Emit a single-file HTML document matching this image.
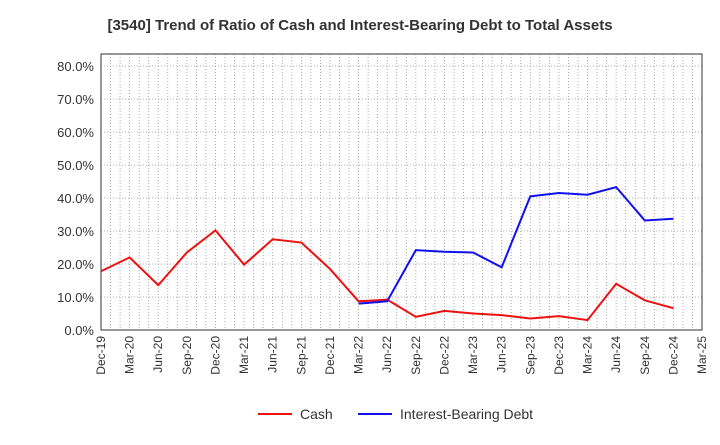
<!DOCTYPE html>
<html><head><meta charset="utf-8"><style>
body{margin:0;background:#fff;font-family:"Liberation Sans",sans-serif}
</style></head><body>
<svg id="c" width="720" height="440" xmlns="http://www.w3.org/2000/svg"></svg>
<script>
const categories=["Dec-19","Mar-20","Jun-20","Sep-20","Dec-20","Mar-21","Jun-21","Sep-21","Dec-21","Mar-22","Jun-22","Sep-22","Dec-22","Mar-23","Jun-23","Sep-23","Dec-23","Mar-24","Jun-24","Sep-24","Dec-24","Mar-25"];
const cashValues=[17.8,22,13.6,23.5,30.2,19.8,27.5,26.5,18.5,8.7,9.2,4,5.8,5,4.5,3.5,4.2,3,14,9,6.6];
const debtValues=[null,null,null,null,null,null,null,null,null,8,8.7,24.2,23.7,23.5,19,40.5,41.5,41,43.3,33.2,33.7];
const yTicks=[0,10,20,30,40,50,60,70,80];
const NS="http://www.w3.org/2000/svg",svg=document.getElementById('c');
const L=101,R=702,T=54,B=330;
const xs=i=>L+(R-L)*i/(categories.length-1);
const ys=v=>B-v*3.3;
function mk(t,a,p){const e=document.createElementNS(NS,t);for(const k in a)e.setAttribute(k,a[k]);(p||svg).appendChild(e);return e;}
const title=mk('text',{x:360,y:30,'text-anchor':'middle','font-size':15,'font-weight':'bold',fill:'#333'});
title.textContent="[3540]  Trend of Ratio of Cash and Interest-Bearing Debt to Total Assets";

for(let m=1;m<(categories.length-1)*3;m++){const x=L+(R-L)*m/((categories.length-1)*3);
 const g=mk('line',{x1:x,x2:x,y1:T,y2:B,stroke:'#999','stroke-dasharray':'1,2','stroke-width':0.8});
 }
yTicks.forEach(v=>{const y=ys(v);
 const g=mk('line',{x1:L,x2:R,y1:y,y2:y,stroke:'#999','stroke-dasharray':'1,2','stroke-width':0.8});
 
 const t=mk('text',{x:L-7,y:y+5,'text-anchor':'end','font-size':13,fill:'#333'});t.textContent=v.toFixed(1)+'%';
 });
const fr=mk('rect',{x:L,y:T,width:R-L,height:B-T,fill:'none',stroke:'#333'});

categories.forEach((c,i)=>{const x=xs(i);
 const t=mk('text',{transform:`translate(${x+4},${B+6}) rotate(-90)`,'text-anchor':'end','font-size':12,fill:'#333'});t.textContent=c;
 });
function line(vals,col,name){let d='',pen=false;vals.forEach((v,i)=>{if(v==null){pen=false;return;}d+=(pen?'L':'M')+xs(i)+','+ys(v);pen=true;});
 const p=mk('path',{d:d,fill:'none',stroke:col,'stroke-width':2});}
line(cashValues,'#ee1111','cash-line');
line(debtValues,'#1111ee','debt-line');
const lg=[['Cash','#ee1111',258],['Interest-Bearing Debt','#1111ee',358]];
lg.forEach(([n,c,x])=>{const g=mk('g',{});
 mk('line',{x1:x,x2:x+34,y1:414,y2:414,stroke:c,'stroke-width':2},g);
 const t=mk('text',{x:x+42,y:419,'font-size':14,fill:'#333'},g);t.textContent=n;});
</script>
</body></html>
